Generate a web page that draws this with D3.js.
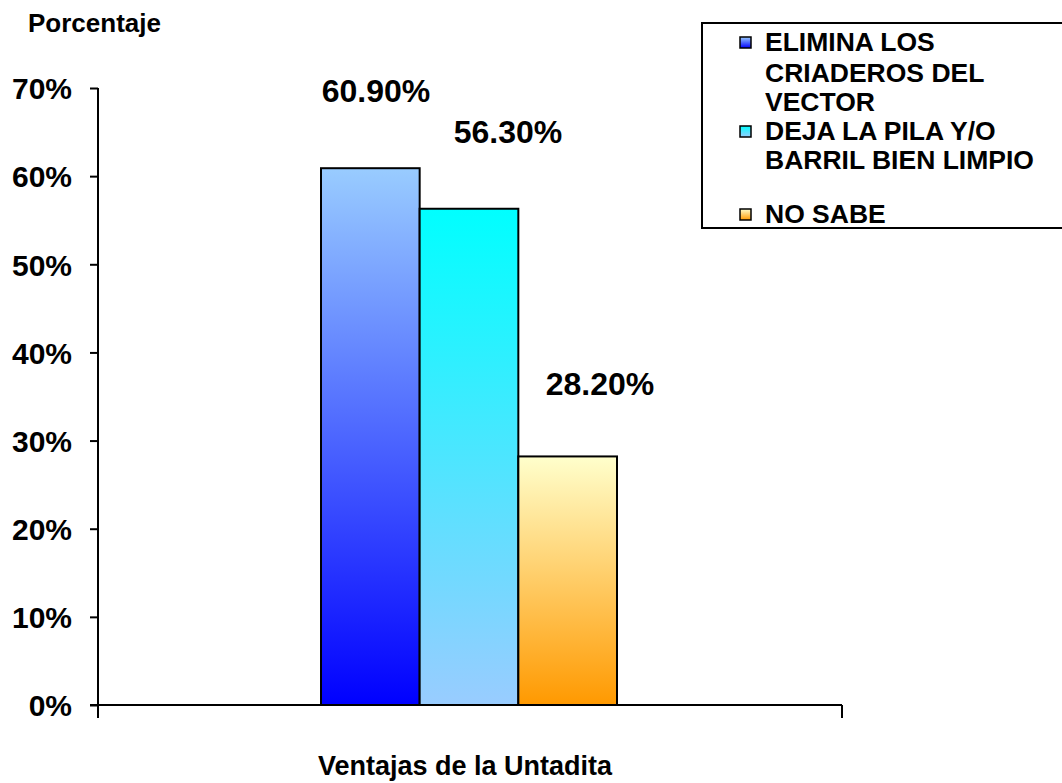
<!DOCTYPE html>
<html><head><meta charset="utf-8">
<script src="https://cdn.jsdelivr.net/npm/d3@7"></script>
<style>body{margin:0;background:#fff;}svg{display:block;font-family:"Liberation Sans",Arial,sans-serif;font-weight:bold;}</style>
</head><body>
<script>
const categories = ["ELIMINA LOS CRIADEROS DEL VECTOR", "DEJA LA PILA Y/O BARRIL BIEN LIMPIO", "NO SABE"];
const legendLines = [["ELIMINA LOS","CRIADEROS DEL","VECTOR"],["DEJA LA PILA Y/O","BARRIL BIEN LIMPIO"],["NO SABE"]];
const values = [0.609, 0.563, 0.282];
const valueLabels = ["60.90%", "56.30%", "28.20%"];
const yTicks = [0,0.1,0.2,0.3,0.4,0.5,0.6,0.7];
const gradTop = ["#99CCFF", "#00FFFF", "#FFFFCC"];
const gradBottom = ["#0000FF", "#99CCFF", "#FF9900"];

const W=1062,H=783;
const svg=d3.select("body").append("svg").attr("width",W).attr("height",H);
const defs=svg.append("defs");
categories.forEach((c,i)=>{
  const g=defs.append("linearGradient").attr("id","g"+i).attr("x1",0).attr("y1",0).attr("x2",0).attr("y2",1);
  g.append("stop").attr("offset","0%").attr("stop-color",gradTop[i]);
  g.append("stop").attr("offset","100%").attr("stop-color",gradBottom[i]);
});

const x0=98,x1=842,yBot=705,yTop=88;
const y=d3.scaleLinear().domain([0,0.7]).range([yBot,yTop]);
const x=d3.scaleBand().domain(categories).range([321,617]).padding(0);

// y axis
const ya=svg.append("g").attr("transform",`translate(${x0},0)`)
  .call(d3.axisLeft(y).tickValues(yTicks).tickFormat(d3.format(".0%")).tickSizeOuter(0).tickSize(8));
ya.select(".domain").attr("stroke","#000").attr("stroke-width",2).attr("d",`M0,${yTop}V${yBot+13}`);
ya.selectAll(".tick line").attr("stroke","#000").attr("stroke-width",2);
ya.selectAll(".tick text").attr("font-size",30).attr("font-weight","bold").attr("fill","#000").attr("x",-26).attr("dy","0.36em")
  .attr("font-family","Liberation Sans, Arial, sans-serif");

// x axis
svg.append("line").attr("x1",x0-8).attr("x2",x1).attr("y1",yBot).attr("y2",yBot).attr("stroke","#000").attr("stroke-width",2);
svg.append("line").attr("x1",x1).attr("x2",x1).attr("y1",yBot).attr("y2",yBot+13).attr("stroke","#000").attr("stroke-width",2);

// bars
svg.selectAll("rect.bar").data(values).join("rect").attr("class","bar")
  .attr("x",(d,i)=>x(categories[i])).attr("width",x.bandwidth())
  .attr("y",d=>y(d)).attr("height",d=>yBot-y(d))
  .attr("fill",(d,i)=>`url(#g${i})`).attr("stroke","#000").attr("stroke-width",2);

// value labels (positions as in reference)
const labelPos=[[376,102],[508,143],[600,395]];
svg.selectAll("text.vl").data(valueLabels).join("text").attr("class","vl")
  .attr("x",(d,i)=>labelPos[i][0]).attr("y",(d,i)=>labelPos[i][1])
  .attr("text-anchor","middle").attr("font-size",32).text(d=>d);

// titles
svg.append("text").attr("x",28).attr("y",32).attr("font-size",26).text("Porcentaje");
svg.append("text").attr("x",465).attr("y",775).attr("text-anchor","middle").attr("font-size",27).text("Ventajas de la Untadita");

// legend
svg.append("rect").attr("x",702).attr("y",23).attr("width",390).attr("height",205).attr("fill","#fff").attr("stroke","#000").attr("stroke-width",2);
const legBase=[[51,82,111],[140,169],[223]];
legendLines.forEach((lines,i)=>{
  svg.append("rect").attr("x",740).attr("y",legBase[i][0]-14).attr("width",11).attr("height",11)
    .attr("fill",`url(#g${i})`).attr("stroke","#000").attr("stroke-width",1.5);
  lines.forEach((l,j)=>{
    svg.append("text").attr("x",765).attr("y",legBase[i][j]).attr("font-size",26.5).text(l);
  });
});
</script>
</body></html>
